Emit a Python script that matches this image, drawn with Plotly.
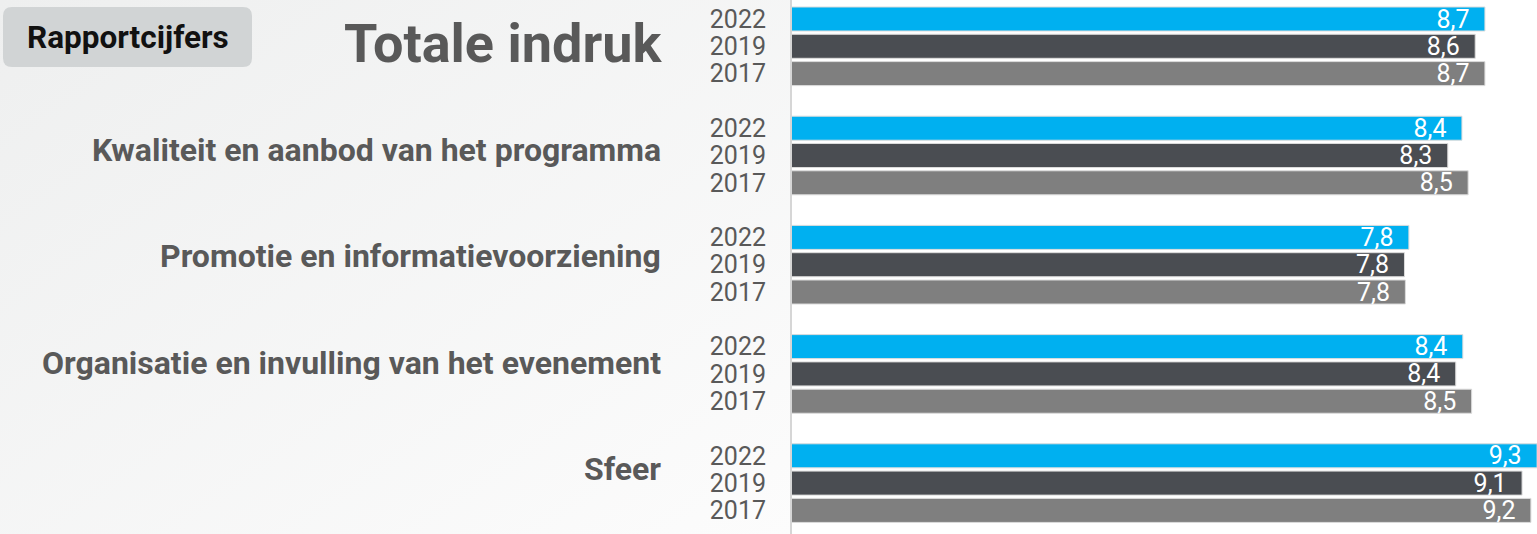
import base64
import plotly.graph_objects as go

categories = [
    "Totale indruk",
    "Kwaliteit en aanbod van het programma",
    "Promotie en informatievoorziening",
    "Organisatie en invulling van het evenement",
    "Sfeer",
]
years = ["2022", "2019", "2017"]
scores_2022 = [8.69, 8.43, 7.83, 8.44, 9.28]
scores_2019 = [8.58, 8.27, 7.78, 8.36, 9.11]
scores_2017 = [8.69, 8.50, 7.79, 8.54, 9.21]
series = [scores_2022, scores_2019, scores_2017]
colors = ["#00B0F0", "#4A4D52", "#7F7F7F"]

W, H = 1537, 534
PL = 792  # left edge of plot area in px
slots = len(years) + 1  # one empty slot between groups

fig = go.Figure()
tickvals, ticktext = [], []
for si, (yr, vals, col) in enumerate(zip(years, series, colors)):
    ys = [gi * slots + si for gi in range(len(categories))]
    tickvals += ys
    ticktext += [yr] * len(ys)
    fig.add_trace(go.Bar(
        x=vals, y=ys, orientation="h", name=yr,
        width=0.88,
        marker=dict(color=col, line=dict(color="#DCDCDC", width=1)),
        texttemplate="%{x:.1f}\u00a0\u00a0",
        textposition="inside", insidetextanchor="end",
        textangle=0, constraintext="none",
        textfont=dict(family="Roboto", size=25, color="white"),
        hoverinfo="skip",
    ))

n_slots = len(categories) * slots - 1
fig.update_layout(
    width=W, height=H,
    margin=dict(l=PL, r=0, t=0, b=0),
    paper_bgcolor="#F3F3F3",
    plot_bgcolor="white",
    barmode="overlay",
    showlegend=False,
    separators=",.",
    font=dict(family="Roboto"),
    xaxis=dict(range=[0.852, 9.279], showticklabels=False, showgrid=False,
               zeroline=False, showline=False, fixedrange=True),
    yaxis=dict(range=[n_slots - 0.136, -0.696], tickvals=tickvals,
               ticktext=ticktext, showgrid=False, zeroline=False,
               showline=True, linecolor="#D6D6D6", linewidth=2,
               ticks="", ticklabelstandoff=19,
               tickfont=dict(family="Roboto", size=25, color="#595959")),
    yaxis2=dict(overlaying="y", visible=False, range=[4.612, -0.414]),
)

PW = W - PL


def px(xp):
    return (xp - PL) / PW


def py(yp):
    return 1 - yp / H


# subtle gradient background on the label side
svg = (
    '<svg xmlns="http://www.w3.org/2000/svg" width="792" height="534" '
    'preserveAspectRatio="none">'
    '<defs><linearGradient id="g" x1="0" y1="0" x2="1" y2="1">'
    '<stop offset="0" stop-color="#EEEFEF"/><stop offset="1" stop-color="#FCFCFC"/>'
    '</linearGradient></defs><rect width="792" height="534" fill="url(#g)"/></svg>'
)
uri = "data:image/svg+xml;base64," + base64.b64encode(svg.encode()).decode()
fig.add_layout_image(source=uri, xref="paper", yref="paper", x=px(0), y=1,
                     sizex=PL / PW, sizey=1, sizing="stretch",
                     xanchor="left", yanchor="top", layer="below")

# category labels
for gi, cat in enumerate(categories):
    big = gi == 0
    fig.add_annotation(
        xref="paper", yref="y2", x=px(664 if big else 663), y=gi,
        text=f"<b>{cat}</b>", showarrow=False,
        xanchor="right", yanchor="middle",
        font=dict(family="Roboto", size=54 if big else 32, color="#595959"),
    )

# "Rapportcijfers" badge
x0, x1, y0, y1, r = 3, 252, 7, 67, 9
path = (
    f"M {px(x0 + r)} {py(y0)} L {px(x1 - r)} {py(y0)} "
    f"Q {px(x1)} {py(y0)} {px(x1)} {py(y0 + r)} L {px(x1)} {py(y1 - r)} "
    f"Q {px(x1)} {py(y1)} {px(x1 - r)} {py(y1)} L {px(x0 + r)} {py(y1)} "
    f"Q {px(x0)} {py(y1)} {px(x0)} {py(y1 - r)} L {px(x0)} {py(y0 + r)} "
    f"Q {px(x0)} {py(y0)} {px(x0 + r)} {py(y0)} Z"
)
fig.add_shape(type="path", xref="paper", yref="paper", path=path,
              fillcolor="#D1D4D5", line=dict(width=0), layer="above")
fig.add_annotation(xref="paper", yref="paper", x=px((x0 + x1) / 2), y=py((y0 + y1) / 2),
                   text="<b>Rapportcijfers</b>", showarrow=False,
                   xanchor="center", yanchor="middle",
                   font=dict(family="Roboto", size=31.5, color="#111111"))

fig.write_html("out.html")
